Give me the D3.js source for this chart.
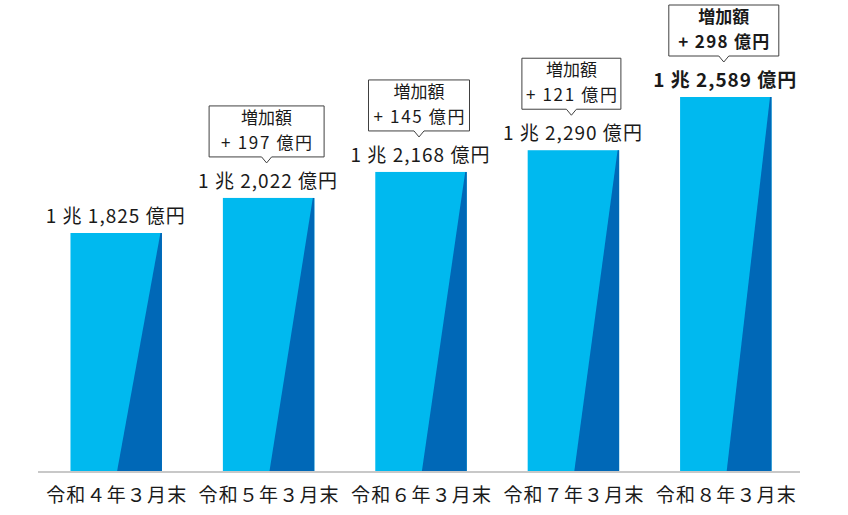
<!DOCTYPE html>
<html>
<head>
<meta charset="utf-8">
<script src="https://cdn.jsdelivr.net/npm/d3@7"></script>
<style>
  body { margin: 0; background: #fff; }
  text { font-family: "Noto Sans CJK JP", "Noto Sans", sans-serif; fill: #1a1a1a; }
</style>
</head>
<body>
<div id="chart"></div>
<script>
// Data (億円)
const categories = ["令和４年３月末", "令和５年３月末", "令和６年３月末", "令和７年３月末", "令和８年３月末"];
const values = [18250, 20220, 21680, 22900, 25890];
const valueLabels = ["1 兆 1,825 億円", "1 兆 2,022 億円", "1 兆 2,168 億円", "1 兆 2,290 億円", "1 兆 2,589 億円"];
const increases = [null, 197, 145, 121, 298];

// Callout box widths (drawn by hand in the original)
const calloutWidths = [0, 115, 101, 99, 110];

const width = 848;
const height = 515;
const baseline = 471;

const svg = d3.select("#chart")
    .append("svg")
    .attr("width", width)
    .attr("height", height);

// Scales
const xScale = d3.scaleBand()
    .domain(categories)
    .range([40, 802])
    .paddingInner(0.4)
    .paddingOuter(0.2);

const yScale = d3.scaleLinear()
    .domain([4880, 25890])
    .range([baseline, 97]);

const data = categories.map((c, i) => ({
    cat: c,
    value: values[i],
    label: valueLabels[i],
    inc: increases[i],
    boxW: calloutWidths[i],
    last: i === categories.length - 1
}));

const bw = xScale.bandwidth();

// Light bars
svg.selectAll(".bar")
    .data(data)
    .enter()
    .append("rect")
    .attr("class", "bar")
    .attr("x", d => xScale(d.cat))
    .attr("y", d => yScale(d.value))
    .attr("width", bw)
    .attr("height", d => baseline - yScale(d.value))
    .attr("fill", "#00b9ef");

// Dark diagonal part
svg.selectAll(".shade")
    .data(data)
    .enter()
    .append("polygon")
    .attr("class", "shade")
    .attr("points", d => {
        const x0 = xScale(d.cat);
        const top = yScale(d.value);
        return [
            [x0 + bw - 1.5, top],
            [x0 + bw, top],
            [x0 + bw, baseline],
            [x0 + bw * 0.51, baseline]
        ].map(p => p.join(",")).join(" ");
    })
    .attr("fill", "#0068b7");

// Axis line
svg.append("line")
    .attr("x1", 38)
    .attr("x2", 800)
    .attr("y1", baseline + 1)
    .attr("y2", baseline + 1)
    .attr("stroke", "#c8c8c8")
    .attr("stroke-width", 2);

// Category labels
svg.selectAll(".cat")
    .data(data)
    .enter()
    .append("text")
    .attr("class", "cat")
    .attr("x", d => xScale(d.cat) + bw / 2)
    .attr("y", 502)
    .attr("text-anchor", "middle")
    .attr("font-size", 19)
    .attr("textLength", 140)
    .text(d => d.cat);

// Value labels
svg.selectAll(".val")
    .data(data)
    .enter()
    .append("text")
    .attr("class", "val")
    .attr("x", d => xScale(d.cat) + bw / 2 - 1)
    .attr("y", d => yScale(d.value) - 10)
    .attr("text-anchor", "middle")
    .attr("font-size", 19)
    .attr("font-weight", d => d.last ? "bold" : "normal")
    .attr("textLength", d => d.last ? 143 : 139)
    .text(d => d.label);

// Callouts
const callouts = svg.selectAll(".callout")
    .data(data.filter(d => d.inc !== null))
    .enter()
    .append("g")
    .attr("class", "callout")
    .attr("transform", d => `translate(${xScale(d.cat) + bw / 2 - 2},${yScale(d.value)})`);

callouts.append("path")
    .attr("d", d => {
        const w = d.boxW / 2;
        return `M${-w},-92 L${w},-92 L${w},-41 L5,-41 L0,-35 L-5,-41 L${-w},-41 Z`;
    })
    .attr("fill", "#fff")
    .attr("stroke", "#404040")
    .attr("stroke-width", 1);

callouts.append("text")
    .attr("y", -74)
    .attr("text-anchor", "middle")
    .attr("font-size", 17)
    .attr("font-weight", d => d.last ? "bold" : "normal")
    .text("増加額");

callouts.append("text")
    .attr("y", -49)
    .attr("text-anchor", "middle")
    .attr("font-size", 17)
    .attr("font-weight", d => d.last ? "bold" : "normal")
    .attr("textLength", 91)
    .text(d => `+ ${d.inc} 億円`);
</script>
</body>
</html>
